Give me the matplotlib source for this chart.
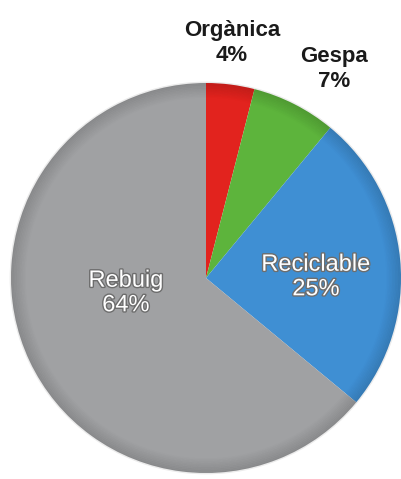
import matplotlib
matplotlib.use("Agg")
from matplotlib import pyplot as plt
import matplotlib.patheffects as pe

labels = ["Orgànica", "Gespa", "Reciclable", "Rebuig"]
values = [4, 7, 25, 64]
colors = ["#e2231e", "#5db43c", "#3f8fd3", "#a0a1a3"]

# label placement (pixels from top-left of image)
label_pos = [(232, 43), (334, 69), (316, 277), (126, 293)]
inside = [False, False, True, True]

W, H = 401, 479
fig = plt.figure(figsize=(W / 100, H / 100), dpi=100)
ax = fig.add_axes([0, 0, 1, 1])

cx, cy, r = 206, H - 278, 195
wedges, _ = ax.pie(values, colors=colors, startangle=90, counterclock=False,
                   center=(cx, cy), radius=r, frame=True,
                   wedgeprops=dict(linewidth=0))
ax.set_xlim(0, W)
ax.set_ylim(0, H)
ax.set_aspect("equal")
ax.axis("off")

# soft darkening toward the rim
for i in range(10):
    rr = r - i * 1.5
    circ = plt.Circle((cx, cy), rr, fill=False, lw=2, color="black",
                      alpha=0.08 * (10 - i) / 10)
    ax.add_patch(circ)

for lab, v, (x, y), ins in zip(labels, values, label_pos, inside):
    txt = f"{lab}\n{v}%"
    if ins:
        ax.text(x, H - y, txt, ha="center", va="center", fontsize=17,
                color="white", family="Liberation Sans", linespacing=1.15,
                path_effects=[pe.withStroke(linewidth=2, foreground="#6d6d6d")])
    else:
        ax.text(x, H - y, txt, ha="center", va="center", fontsize=16,
                color="#1a1a1a", fontweight="bold", family="Liberation Sans",
                linespacing=1.2)

fig.savefig("out.png", dpi=100)
